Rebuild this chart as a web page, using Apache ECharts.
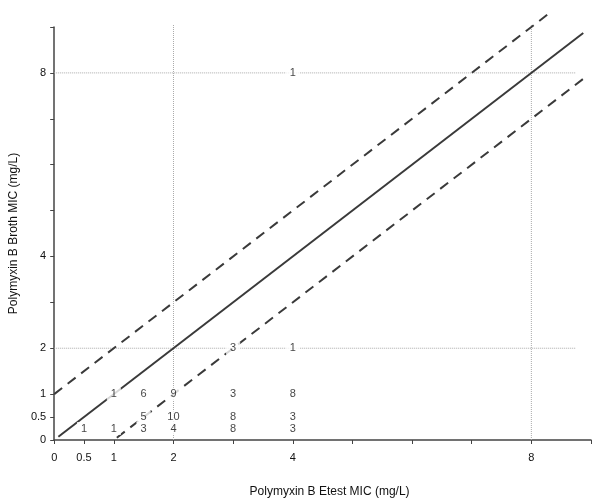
<!DOCTYPE html>
<html>
<head>
<meta charset="utf-8">
<script src="https://cdn.jsdelivr.net/npm/echarts@6/dist/echarts.min.js"></script>
<style>html,body{margin:0;padding:0;background:#fff}#c{width:600px;height:503px}</style>
</head>
<body>
<div id="c"></div>
<script>
// Count labels (number of isolates at each Etest / broth MIC pair)
var countX = [0.5, 1, 1.5, 2, 3, 4,   1.5, 2, 3, 4,   1, 1.5, 2, 3, 4,   3, 4,   4];
var countY = [0.25, 0.25, 0.25, 0.25, 0.25, 0.25,   0.5, 0.5, 0.5, 0.5,   1, 1, 1, 1, 1,   2, 2,   8];
var countN = [1, 1, 3, 4, 8, 3,   5, 10, 8, 3,   1, 6, 9, 3, 8,   3, 1,   1];

// Reference lines
var identityLine = [[0.07, 0.07], [8.87, 8.87]];
var upperLine = [[0, 1], [8.35, 9.35]];
var lowerLine = [[1.05, 0.05], [8.87, 7.87]];

// Dotted guide lines
var guideV = [2, 8];
var guideH = [2, 8];
var guideVTop = 9.05;
var guideHRight = 8.75;

// Axis ticks and labels
var tickLabels = [0, 0.5, 1, 2, 4, 8];
var tickMarks = [0, 0.5, 1, 2, 3, 4, 5, 6, 7, 8, 9];

var font = 'Liberation Sans, Arial, sans-serif';
var series = [];
guideV.forEach(function (v) {
  series.push({type: 'line', data: [[v, 0], [v, guideVTop]], showSymbol: false, silent: true, clip: false,
    lineStyle: {color: '#aaa', width: 1, type: [1, 1]}, z: 1});
});
guideH.forEach(function (v) {
  series.push({type: 'line', data: [[0, v], [guideHRight, v]], showSymbol: false, silent: true, clip: false,
    lineStyle: {color: '#aaa', width: 1, type: [1, 1]}, z: 1});
});
series.push({type: 'line', data: identityLine, showSymbol: false, clip: false,
  lineStyle: {color: '#3a3a3a', width: 2}, z: 2});
series.push({type: 'line', data: upperLine, showSymbol: false, clip: false,
  lineStyle: {color: '#3a3a3a', width: 2, type: [10, 7]}, z: 2});
series.push({type: 'line', data: lowerLine, showSymbol: false, clip: false,
  lineStyle: {color: '#3a3a3a', width: 2, type: [10, 7]}, z: 2});
series.push({type: 'scatter', symbolSize: 0, z: 5,
  data: countX.map(function (x, i) { return [x, countY[i], countN[i]]; }),
  label: {show: true, position: 'inside', formatter: function (p) { return p.value[2]; },
    color: '#111', fontSize: 11, fontFamily: font, backgroundColor: '#fff', padding: [1, 4]}
});

var chart = echarts.init(document.getElementById('c'));
chart.setOption({
  animation: false,
  grid: {left: 50, right: 9, top: 27, bottom: 61},
  xAxis: {
    type: 'value', min: 0, max: 9, interval: 1,
    name: 'Polymyxin B Etest MIC (mg/L)', nameLocation: 'middle', nameGap: 46,
    nameTextStyle: {color: '#111', fontSize: 12, fontFamily: font, padding: [0, 0, 0, 14]},
    axisLine: {lineStyle: {color: '#444', width: 1.5}},
    axisTick: {show: true, length: 4, customValues: tickMarks, lineStyle: {color: '#444'}},
    axisLabel: {customValues: tickLabels, color: '#111', fontSize: 11, fontFamily: font, margin: 12},
    splitLine: {show: false}
  },
  yAxis: {
    type: 'value', min: 0, max: 9, interval: 1,
    name: 'Polymyxin B Broth MIC (mg/L)', nameLocation: 'middle', nameGap: 32,
    nameTextStyle: {color: '#111', fontSize: 12, fontFamily: font},
    axisLine: {show: true, lineStyle: {color: '#444', width: 1.5}},
    axisTick: {show: true, length: 4, customValues: tickMarks, lineStyle: {color: '#444'}},
    axisLabel: {customValues: tickLabels, color: '#111', fontSize: 11, fontFamily: font, margin: 8},
    splitLine: {show: false}
  },
  series: series
});
</script>
</body>
</html>
